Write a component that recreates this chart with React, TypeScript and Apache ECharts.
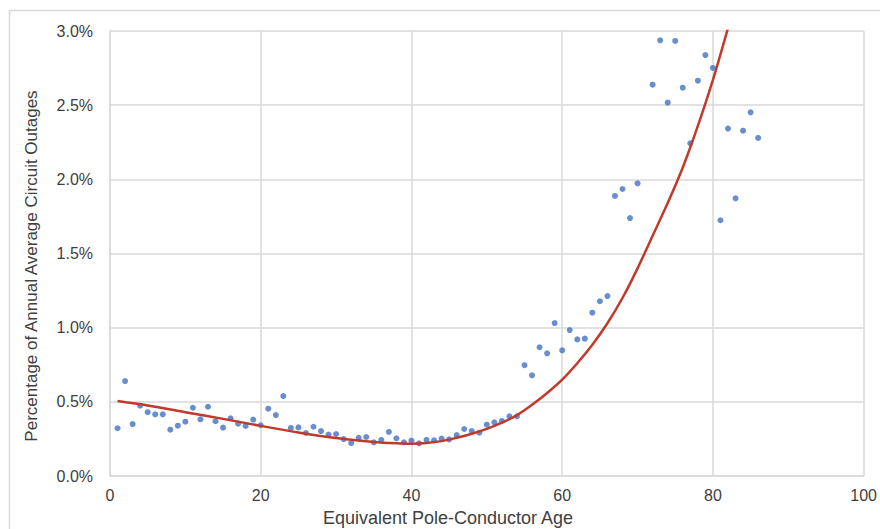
import React, { useEffect, useRef } from "react";
import * as echarts from "echarts";

const ages = [
  1, 2, 3, 4, 5, 6, 7, 8, 9, 10, 11, 12, 13, 14, 15, 16, 17, 18, 19, 20,
  21, 22, 23, 24, 25, 26, 27, 28, 29, 30, 31, 32, 33, 34, 35, 36, 37, 38, 39, 40,
  41, 42, 43, 44, 45, 46, 47, 48, 49, 50, 51, 52, 53, 54, 55, 56, 57, 58, 59, 60,
  61, 62, 63, 64, 65, 66, 67, 68, 69, 70, 72, 73, 74, 75, 76, 77, 78, 79, 80,
  81, 82, 83, 84, 85, 86,
];
const outagePct = [
  0.322, 0.64, 0.35, 0.474, 0.43, 0.416, 0.416, 0.312, 0.339, 0.366, 0.46, 0.382, 0.467, 0.369, 0.326, 0.389, 0.353, 0.337, 0.38, 0.342,
  0.454, 0.411, 0.539, 0.324, 0.328, 0.29, 0.332, 0.303, 0.279, 0.283, 0.249, 0.222, 0.258, 0.263, 0.227, 0.243, 0.297, 0.254, 0.227, 0.238,
  0.22, 0.243, 0.24, 0.252, 0.247, 0.276, 0.317, 0.303, 0.292, 0.346, 0.362, 0.371, 0.402, 0.402, 0.747, 0.679, 0.868, 0.827, 1.031, 0.847,
  0.984, 0.921, 0.926, 1.101, 1.178, 1.213, 1.888, 1.935, 1.739, 1.973, 2.638, 2.937, 2.517, 2.933, 2.618, 2.243, 2.665, 2.838, 2.751,
  1.724, 2.342, 1.872, 2.328, 2.452, 2.279,
];

const trendAges = [1, 5, 10, 15, 20, 25, 30, 35, 38, 40, 42, 44, 46, 48, 50, 52, 54, 56, 58, 60, 62, 64, 66, 68, 70, 72, 74, 76, 78, 80, 82];
const trendPct = [
  0.505, 0.475, 0.43, 0.385, 0.338, 0.293, 0.256, 0.23, 0.221, 0.218, 0.222, 0.235, 0.258, 0.285, 0.318, 0.36,
  0.41, 0.48, 0.56, 0.65, 0.76, 0.885, 1.03, 1.2, 1.4, 1.62, 1.84, 2.08, 2.36, 2.67, 3.02,
];

const yTicks = [0, 0.5, 1, 1.5, 2, 2.5, 3];
const xTicks = [0, 20, 40, 60, 80, 100];

const xTitle = "Equivalent Pole-Conductor Age";
const yTitle = "Percentage of Annual Average Circuit Outages";

export default function App() {
  const ref = useRef<HTMLDivElement>(null);
  useEffect(() => {
    if (!ref.current) return;
    const chart = echarts.init(ref.current, null, { renderer: "svg" });
    const font = "Liberation Sans, Arial, sans-serif";
    const textColor = "#404040";
    const gridColor = "#d9d9d9";
    chart.setOption({
      animation: false,
      backgroundColor: "#ffffff",
      grid: { left: 110, top: 31, right: 13, bottom: 53, containLabel: false },
      xAxis: {
        type: "value",
        min: xTicks[0],
        max: xTicks[xTicks.length - 1],
        interval: 20,
        axisLine: { show: true, lineStyle: { color: gridColor, width: 1.5 } },
        axisTick: { show: false },
        splitLine: { show: true, lineStyle: { color: gridColor, width: 1.5 } },
        axisLabel: { color: textColor, fontSize: 16, fontFamily: font, margin: 11 },
      },
      yAxis: {
        type: "value",
        min: yTicks[0],
        max: yTicks[yTicks.length - 1],
        interval: 0.5,
        axisLine: { show: true, lineStyle: { color: gridColor, width: 1.5 } },
        axisTick: { show: false },
        splitLine: { show: true, lineStyle: { color: gridColor, width: 1.5 } },
        axisLabel: {
          color: textColor,
          fontSize: 16,
          fontFamily: font,
          margin: 17,
          formatter: (v: number) => v.toFixed(1) + "%",
        },
      },
      graphic: [
        {
          type: "rect",
          shape: { x: 9.5, y: 10.5, width: 900, height: 600 },
          style: { fill: "none", stroke: gridColor, lineWidth: 1.5 },
          silent: true,
          z: -1,
        },
        {
          type: "text",
          x: 448,
          y: 518,
          style: {
            text: xTitle,
            fill: textColor,
            font: `18px ${font}`,
            textAlign: "center",
            textVerticalAlign: "middle",
          },
        },
        {
          type: "text",
          x: 31,
          y: 266,
          rotation: Math.PI / 2,
          style: {
            text: yTitle,
            fill: textColor,
            font: `17px ${font}`,
            textAlign: "center",
            textVerticalAlign: "middle",
          },
        },
      ],
      series: [
        {
          type: "scatter",
          data: ages.map((a, i) => [a, outagePct[i]]),
          symbol: "circle",
          symbolSize: 6,
          itemStyle: { color: "#4472C4" },
          z: 2,
        },
        {
          type: "line",
          data: trendAges.map((a, i) => [a, trendPct[i]]),
          smooth: 0.3,
          showSymbol: false,
          clip: true,
          lineStyle: { color: "#C0392B", width: 2.5 },
          z: 3,
        },
      ],
    });
    return () => chart.dispose();
  }, []);
  return (
    <div
      ref={ref}
      style={{ position: "fixed", left: 0, top: 0, width: 880, height: 529 }}
    />
  );
}
